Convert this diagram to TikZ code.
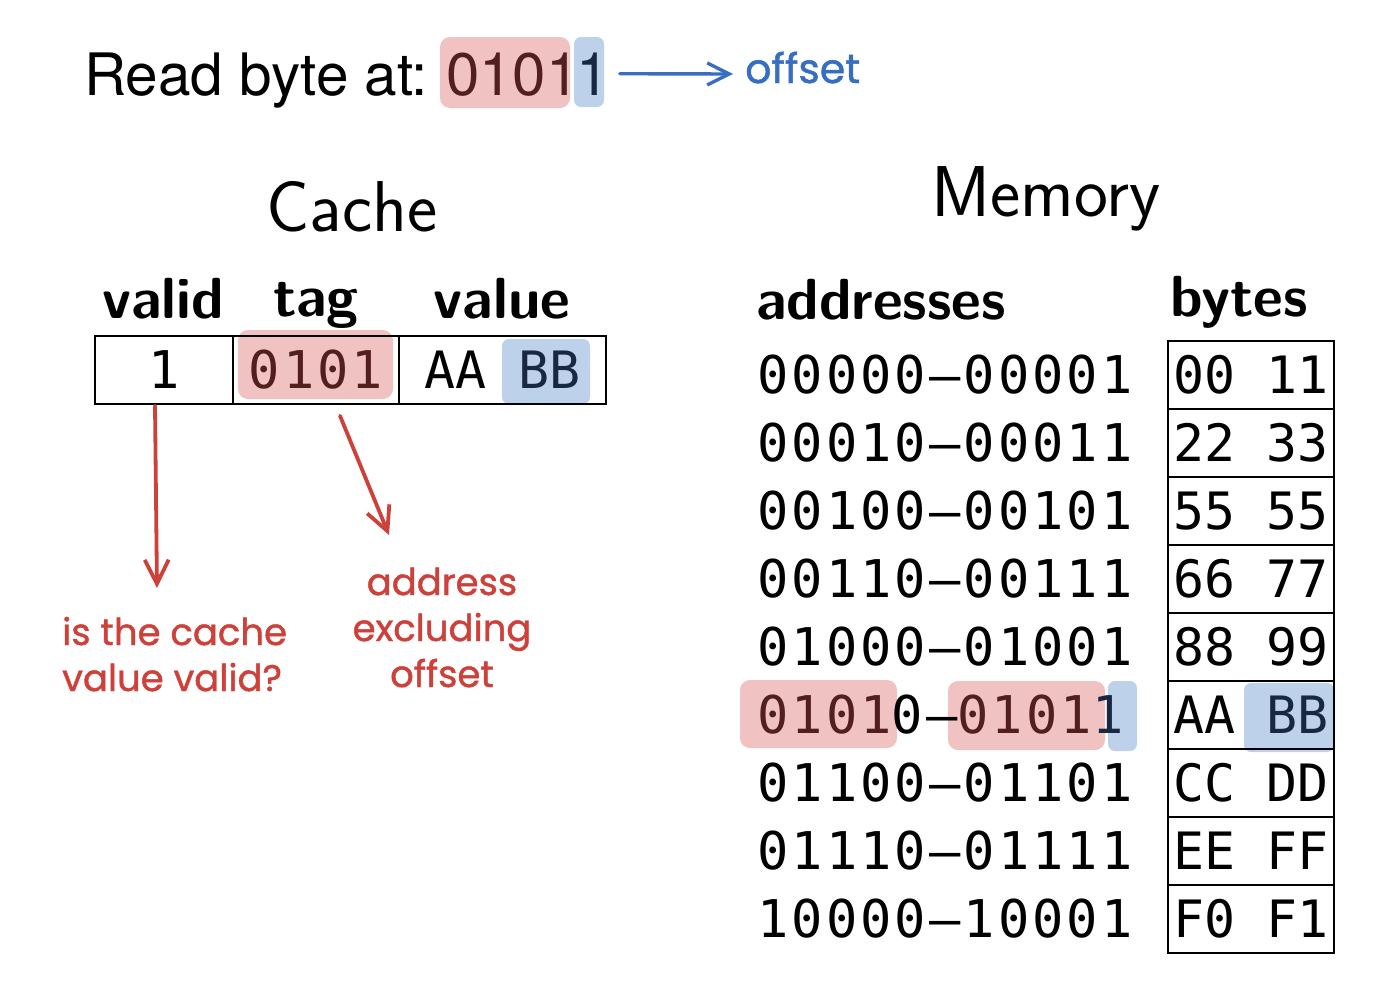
\documentclass[tikz,border=0pt]{standalone}
\usepackage{fontspec}
\usepackage{xcolor}
\usetikzlibrary{arrows.meta}

\newfontfamily\helvfont{TeX Gyre Heros}
\newfontfamily\addrfont[LetterSpace=6]{DejaVu Sans Mono}
\newfontfamily\bytefont{DejaVu Sans Mono}
\newfontfamily\handfont[FakeBold=1.2]{Poppins}

\definecolor{hlred}{RGB}{240,194,194}
\definecolor{hlblue}{RGB}{189,209,234}
\definecolor{txtred}{RGB}{82,30,30}
\definecolor{txtblue}{RGB}{25,40,66}
\definecolor{inkred}{RGB}{205,65,58}
\definecolor{inkblue}{RGB}{55,110,192}

\newcommand{\tagbits}[1]{\textcolor{txtred}{#1}}
\newcommand{\offbits}[1]{\textcolor{txtblue}{#1}}

\begin{document}
\begin{tikzpicture}[x=1pt,y=-1pt,
    redhl/.style={fill=hlred, rounded corners=10pt},
    bluehl/.style={fill=hlblue, rounded corners=7pt},
    cell/.style={draw, line width=1.6pt, minimum height=68pt, inner sep=0pt},
    title/.style={anchor=base, inner sep=0pt, font=\sffamily\fontsize{72}{76}\selectfont},
    colhead/.style={inner sep=0pt, font=\sffamily\bfseries\fontsize{58}{62}\selectfont},
    addr/.style={anchor=west, inner sep=0pt, font=\addrfont\fontsize{52}{56}\selectfont},
    bytecell/.style={cell, minimum width=166pt, font=\bytefont\fontsize{51.5}{55}\selectfont},
    note/.style={inner sep=0pt, font=\handfont\fontsize{37}{46}\selectfont},
    redink/.style={inkred, line width=3.8pt, line cap=round, -{Straight Barb[length=24pt,width=24pt]}},
    blueink/.style={inkblue, line width=3.4pt, line cap=round, -{Straight Barb[length=22pt,width=22pt]}}
  ]
  \useasboundingbox (0,0) rectangle (1400,996);

  %% Address to read
  \fill[redhl] (440,37) rectangle (570,108);
  \fill[bluehl] (574,37) rectangle (604,107);
  \node[anchor=base west, inner sep=0pt, font=\helvfont\fontsize{58.5}{64}\selectfont] (readlabel) at (84,95) {Read byte at:};
  \node[anchor=base west, inner sep=0pt, font=\helvfont\fontsize{60}{64}\selectfont, text=txtred] (tagpart) at (446,95) {0101};
  \node[anchor=base west, inner sep=0pt, font=\helvfont\fontsize{60}{64}\selectfont, text=txtblue] (offbit) at (576,95) {1};
  \node[note, anchor=base west, text=inkblue, font=\handfont\fontsize{41}{46}\selectfont] (offsetnote) at (745,83) {offset};
  \coordinate (offtip) at (733,74);
  \draw[blueink] ([xshift=10pt]offbit.east) -- (offtip);

  %% Cache
  \node[title] (cachetitle) at (352,231) {Cache};
  \node[colhead, anchor=base] (validhead) at (163,318) {valid};
  \node[colhead, anchor=base] (taghead) at (316,316) {tag};
  \node[colhead, anchor=base] (valuehead) at (502,318) {value};

  \fill[redhl] (238,330) rectangle (393,399);
  \fill[bluehl] (502,339) rectangle (590,404);
  \node[cell, minimum width=138pt, font=\addrfont\fontsize{52}{56}\selectfont] (validcell) at (164,370) {1};
  \node[cell, minimum width=166pt, font=\addrfont\fontsize{52}{56}\selectfont] (tagcell) at (316,370) {\tagbits{0101}};
  \node[cell, minimum width=207pt, font=\bytefont\fontsize{51.5}{55}\selectfont] (valuecell) at (502.5,370) {AA \offbits{BB}};

  %% Notes under the cache
  \node[note, anchor=base west, align=left, text=inkred] (validnote) at (62,691) {is the cache\\value valid?};
  \node[note, anchor=base, align=center, text=inkred] (tagnote) at (442,687) {address\\excluding\\offset};
  \coordinate (validtip) at (157,588);
  \coordinate (tagtip) at (389,535);
  \draw[redink] ([xshift=-9pt,yshift=-1pt]validcell.south) -- (validtip);
  \draw[redink] ([xshift=24pt,yshift=-11pt]tagcell.south) -- (tagtip);

  %% Memory
  \node[title] (memtitle) at (1046,216) {Memory};
  \node[colhead, anchor=base west] (addrhead) at (756,319) {addresses};
  \node[colhead, anchor=base west] (bytehead) at (1170,316) {bytes};

  \fill[redhl] (740,680) rectangle (897,748);
  \fill[redhl] (948,681) rectangle (1105,750);
  \fill[bluehl] (1108,681) rectangle (1137,751);
  \fill[bluehl] (1244,683) rectangle (1334,752);

  \foreach \a/\b [count=\i from 0] in {00000–00001/00 11, 00010–00011/22 33,
      00100–00101/55 55, 00110–00111/66 77, 01000–01001/88 99,
      {\tagbits{0101}0–\tagbits{0101}\offbits{1}}/{AA \offbits{BB}},
      01100–01101/CC DD, 01110–01111/EE FF, 10000–10001/F0 F1} {
    \node[addr] (addr\i) at (757,{375+68*\i}) {\a};
    \node[bytecell] (byte\i) at (1251,{375+68*\i}) {\b};
  }
\end{tikzpicture}
\end{document}
